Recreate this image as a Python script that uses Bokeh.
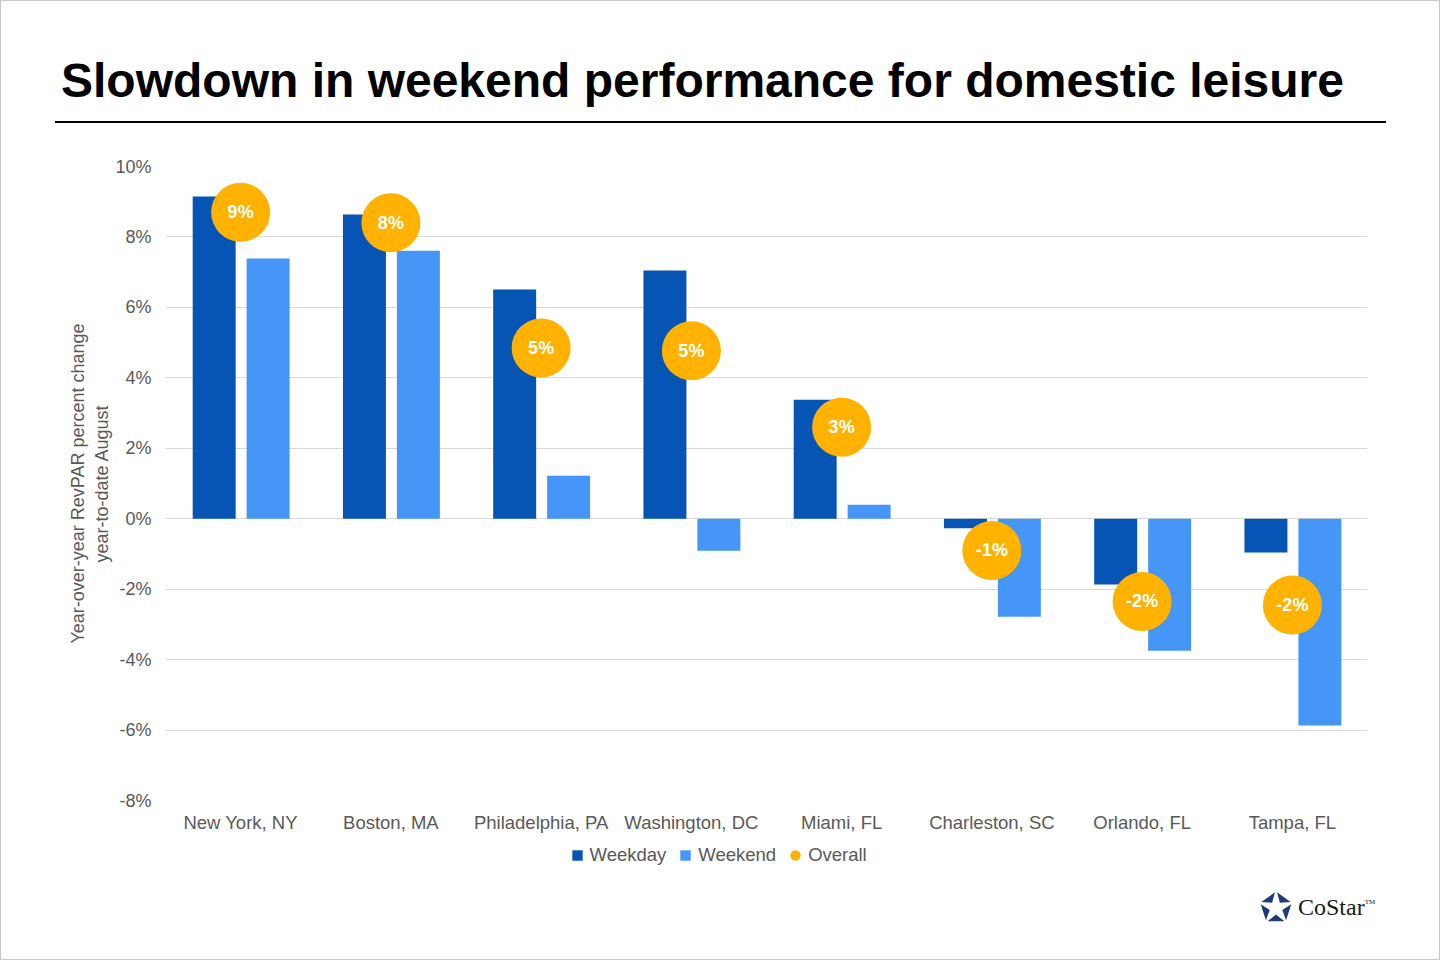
import math
from bokeh.plotting import figure
from bokeh.models import FactorRange, FixedTicker, Legend, LegendItem, ColumnDataSource, Div
from bokeh.transform import dodge
from bokeh.layouts import column
from bokeh.core.properties import value
from bokeh.embed import file_html
from bokeh.resources import INLINE

cities = ["New York, NY", "Boston, MA", "Philadelphia, PA", "Washington, DC",
          "Miami, FL", "Charleston, SC", "Orlando, FL", "Tampa, FL"]
weekday = [9.15, 8.64, 6.51, 7.05, 3.38, -0.27, -1.87, -0.96]
weekend = [7.39, 7.61, 1.22, -0.91, 0.40, -2.78, -3.75, -5.87]
overall = [8.7, 8.4, 4.85, 4.77, 2.6, -0.9, -2.35, -2.45]
overall_labels = ["9%", "8%", "5%", "5%", "3%", "-1%", "-2%", "-2%"]
y_ticks = [-8, -6, -4, -2, 0, 2, 4, 6, 8, 10]

WEEKDAY = "#0654B4"
WEEKEND = "#4596F7"
OVERALL = "#FFB300"
GREY = "#595959"
FONT = "Liberation Sans"

W = 1438

src = ColumnDataSource(dict(city=cities, weekday=weekday, weekend=weekend,
                            overall=overall, label=overall_labels))

p = figure(x_range=FactorRange(factors=cities, range_padding=0), y_range=(-8, 10),
           width=W, height=705, output_backend="svg", toolbar_location=None,
           min_border_left=164, min_border_right=72, min_border_top=35, min_border_bottom=36)

p.vbar(x=dodge("city", -0.176, range=p.x_range), top="weekday", bottom=0, width=0.286,
       source=src, fill_color=WEEKDAY, line_color=None)
p.vbar(x=dodge("city", 0.183, range=p.x_range), top="weekend", bottom=0, width=0.286,
       source=src, fill_color=WEEKEND, line_color=None)
p.scatter(x="city", y="overall", size=59, source=src, marker="circle",
          fill_color=OVERALL, line_color=None)
p.text(x="city", y="overall", text="label", source=src, text_color="white",
       text_font=value(FONT), text_font_style="bold", text_font_size="18px",
       text_align="center", text_baseline="middle")

p.outline_line_color = None
p.xgrid.grid_line_color = None
p.ygrid.grid_line_color = "#d9d9d9"
p.ygrid.grid_line_width = 1

p.yaxis.ticker = FixedTicker(ticks=y_ticks)
p.yaxis.major_label_overrides = {t: f"{t}%" for t in y_ticks}
p.axis.axis_line_color = None
p.axis.major_tick_line_color = None
p.axis.minor_tick_line_color = None
p.axis.major_tick_out = 0
p.axis.major_tick_in = 0
p.axis.major_label_text_font = FONT
p.axis.major_label_text_color = GREY
p.yaxis.major_label_text_font_size = "18px"
p.xaxis.major_label_text_font_size = "18.5px"
p.yaxis.major_label_standoff = 14
p.xaxis.major_label_standoff = 11
p.yaxis.axis_label = "Year-over-year RevPAR percent change\nyear-to-date August"
p.yaxis.axis_label_text_font = FONT
p.yaxis.axis_label_text_font_style = "normal"
p.yaxis.axis_label_text_font_size = "18px"
p.yaxis.axis_label_text_color = GREY
p.yaxis.axis_label_standoff = 0

# legend strip under the chart
lg = figure(width=W, height=40, x_range=(0, 1), y_range=(0, 1), output_backend="svg",
            toolbar_location=None, x_axis_type=None, y_axis_type=None,
            min_border_left=0, min_border_right=0, min_border_top=0, min_border_bottom=0)
lg.outline_line_color = None
lg.grid.visible = False
nan = float("nan")
r_wd = lg.scatter(x=[0.5], y=[nan], marker="square", fill_color=WEEKDAY, line_color=None)
r_we = lg.scatter(x=[0.5], y=[nan], marker="square", fill_color=WEEKEND, line_color=None)
r_ov = lg.scatter(x=[0.5], y=[nan], marker="circle", fill_color=OVERALL, line_color=None)
legend = Legend(items=[LegendItem(label="Weekday", renderers=[r_wd]),
                       LegendItem(label="Weekend", renderers=[r_we]),
                       LegendItem(label="Overall", renderers=[r_ov])],
                orientation="horizontal", location=(398.5, 8.5),
                glyph_width=26, glyph_height=26, label_standoff=0, spacing=6,
                padding=5, margin=0, border_line_color=None, background_fill_alpha=0,
                label_text_font=FONT, label_text_font_size="18.5px", label_text_color=GREY)
lg.add_layout(legend)

title_html = (
    '<div style="position:relative;width:1438px;height:130px;">'
    '<div style="position:absolute;left:60px;top:56px;font-family:\'Liberation Sans\';'
    'font-weight:bold;font-size:48px;line-height:1;white-space:nowrap;color:#000;">'
    'Slowdown in weekend performance for domestic leisure</div>'
    '<div style="position:absolute;left:54px;top:120px;width:1331px;height:0;'
    'border-top:2px solid #000;"></div></div>'
)
title = Div(text=title_html, width=W, height=130, margin=0)

# CoStar mark: five pieces round a pentagonal hole
pieces = []
for k in range(5):
    a0 = math.radians(-90 + 72 * k)
    a1 = math.radians(-90 + 72 * (k + 1))
    ai = math.radians(-90 + 72 * k + 36)
    pts = [(15 + 15 * math.cos(a0), 15 + 15 * math.sin(a0)),
           (15 + 15 * math.cos(a1), 15 + 15 * math.sin(a1)),
           (15 + 5 * math.cos(ai), 15 + 5 * math.sin(ai))]
    cx = sum(q[0] for q in pts) / 3
    cy = sum(q[1] for q in pts) / 3
    pts = [(cx + 0.84 * (q[0] - cx), cy + 0.84 * (q[1] - cy)) for q in pts]
    pieces.append('<polygon fill="#1F3B7A" points="%s"/>' %
                  " ".join("%.1f,%.1f" % q for q in pts))

logo_html = (
    '<div style="position:relative;width:1438px;height:83px;">'
    '<svg style="position:absolute;left:1258px;top:15px;" width="34" height="34" '
    'viewBox="0 0 30 30">' + "".join(pieces) + '</svg>'
    '<div style="position:absolute;left:1297px;top:19px;font-family:\'Liberation Serif\';'
    'font-size:24px;line-height:1;color:#1a1a1a;white-space:nowrap;">CoStar'
    '<span style="font-size:7px;vertical-align:top;position:relative;top:4px;">TM</span>'
    '</div></div>'
)
logo = Div(text=logo_html, width=W, height=83, margin=0)

layout = column(title, p, lg, logo, spacing=0, styles={"border": "1px solid #c8c8c8"})

open("out.html", "w").write(file_html(layout, INLINE))
